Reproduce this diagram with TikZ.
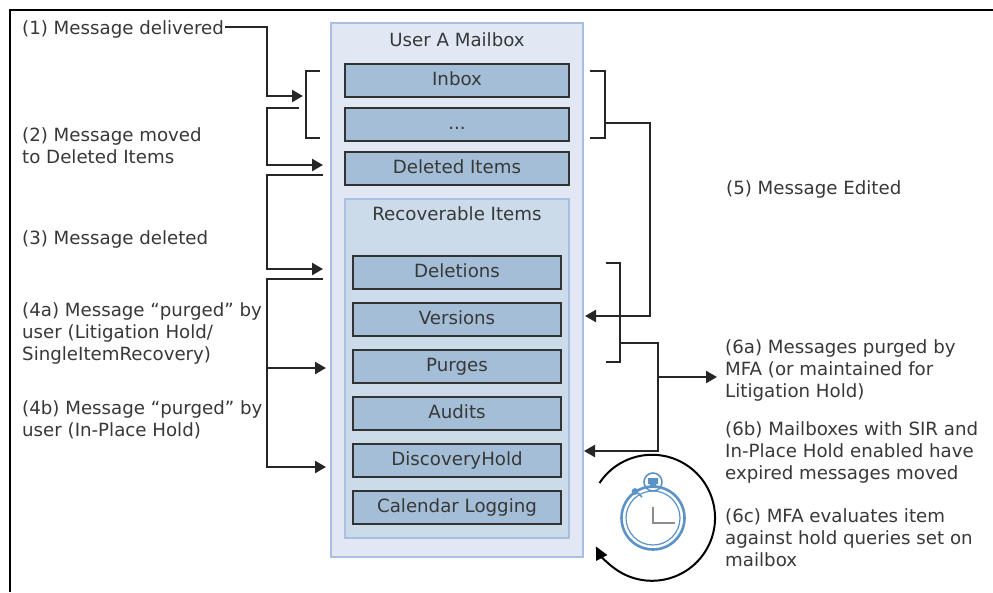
\documentclass[tikz,border=0pt]{standalone}
\usepackage{fontspec}
\setmainfont{DejaVu Sans}
\usetikzlibrary{arrows.meta}
\definecolor{txt}{HTML}{383838}
\definecolor{outerfill}{HTML}{E1E8F4}
\definecolor{outerline}{HTML}{A9BEE0}
\definecolor{recfill}{HTML}{CBDBEA}
\definecolor{folderfill}{HTML}{A3BED6}
\definecolor{clockblue}{HTML}{5B93C7}
\tikzset{
  x=1pt,y=-1pt,
  lbl/.style={font=\fontsize{18.2}{22}\selectfont,text=txt,align=left,anchor=west,inner sep=0pt},
  ttl/.style={font=\fontsize{18.2}{22}\selectfont,text=txt,inner sep=0pt},
  folder/.style={draw=black!80,line width=2pt,fill=folderfill,font=\fontsize{18.2}{22}\selectfont,text=txt,inner sep=0pt,minimum height=33pt,text height=13pt,text depth=3pt,anchor=north west},
  wide/.style={folder,minimum width=224pt},
  narrow/.style={folder,minimum width=208pt},
  conn/.style={draw=black!85,line width=2.4pt},
  arr/.style={conn,-{Triangle[length=11pt,width=12pt]}},
}
\begin{document}
\begin{tikzpicture}
\useasboundingbox (0,0) rectangle (993,592);
\fill[white] (0,0) rectangle (993,592);
\draw[black,line width=2pt] (993,10) -- (10,10) -- (10,592);
% containers
\node[draw=outerline,line width=2pt,fill=outerfill,minimum width=252pt,minimum height=534pt,anchor=north west,inner sep=0pt] (mailbox) at (330,22) {};
\node[ttl] (mailboxt) at (457,40) {User A Mailbox};
\node[wide] (inbox) at (344,63) {Inbox};
\node[wide] (more) at (344,107) {...};
\node[wide] (deleted) at (344,151) {Deleted Items};
\node[draw=outerline,line width=2pt,fill=recfill,minimum width=224pt,minimum height=339pt,anchor=north west,inner sep=0pt] (rec) at (344,198) {};
\node[ttl] (rect) at (457,214) {Recoverable Items};
\node[narrow] (deletions) at (352,255) {Deletions};
\node[narrow] (versions) at (352,302) {Versions};
\node[narrow] (purges) at (352,349) {Purges};
\node[narrow] (audits) at (352,396) {Audits};
\node[narrow] (discovery) at (352,443) {DiscoveryHold};
\node[narrow] (calendar) at (352,490) {Calendar Logging};
% labels
\node[lbl] (l1) at (22,29) {(1) Message delivered};
\node[lbl] (l2) at (22,146) {(2) Message moved\\to Deleted Items};
\node[lbl] (l3) at (22,239) {(3) Message deleted};
\node[lbl] (l4a) at (22,333) {(4a) Message “purged” by\\user (Litigation Hold/\\SingleItemRecovery)};
\node[lbl] (l4b) at (22,420) {(4b) Message “purged” by\\user (In-Place Hold)};
\node[lbl] (l5) at (726,189) {(5) Message Edited};
\node[lbl] (l6a) at (725,370) {(6a) Messages purged by\\MFA (or maintained for\\Litigation Hold)};
\node[lbl] (l6b) at (725,452) {(6b) Mailboxes with SIR and\\In-Place Hold enabled have\\expired messages moved};
\node[lbl] (l6c) at (725,538) {(6c) MFA evaluates item\\against hold queries set on\\mailbox};
% connector end points
\coordinate (a1s) at (225,27);
\coordinate (a1e) at (303,96);
\coordinate (a2s) at (299,108);
\coordinate (a2e) at (323,165);
\coordinate (a3s) at (323,175);
\coordinate (a3e) at (323,269);
\coordinate (a4s) at (323,279);
\coordinate (a4m) at (267,368);
\coordinate (a4e) at (326,368);
\coordinate (a4f) at (326,467);
\coordinate (brR) at (605,123);
\coordinate (a5e) at (585,316);
\coordinate (b6) at (620,343);
\coordinate (a6m) at (658,377);
\coordinate (a6t) at (717,377);
\coordinate (a6e) at (584,451);
% left connectors
\draw[arr] (a1s) -| (267,96) -- (a1e);
\draw[conn] (320,71) -- (306,71) -- (306,138) -- (320,138);
\draw[arr] (a2s) -| (267,165) -- (a2e);
\draw[arr] (a3s) -| (267,269) -- (a3e);
\draw[arr] (a4s) -| (267,467) -- (a4f);
\draw[arr] (a4m) -- (a4e);
% right connectors
\draw[conn] (590,71) -- (605,71) -- (605,138) -- (590,138);
\draw[arr] (brR) -| (650,316) -- (a5e);
\draw[conn] (606,263) -- (620,263) -- (620,362) -- (606,362);
\draw[arr] (b6) -| (658,451) -- (a6e);
\draw[arr] (a6m) -- (a6t);
% stopwatch
\coordinate (clk) at (653,518);
\draw[clockblue,line width=2.6pt] (clk) circle[radius=31.5];
\draw[clockblue,line width=1.2pt] (clk) circle[radius=27];
\draw[clockblue,line width=1.6pt] (653,482) circle[radius=9];
\fill[clockblue] (648,478) rectangle (658,484) (650,484) rectangle (656,488);
\fill[clockblue] (635,491.5) circle[radius=3.4];
\draw[clockblue,line width=1.6pt] (638,493) -- (642,497);
\draw[black!45,line width=1.6pt] (653,507) -- (653,523) -- (675,523);
% loop arrow
\draw[black,line width=2pt,-{Triangle[length=13pt,width=12pt]}] (599.5,483) arc[start angle=-146.5,end angle=153,radius=63];
\end{tikzpicture}
\end{document}
